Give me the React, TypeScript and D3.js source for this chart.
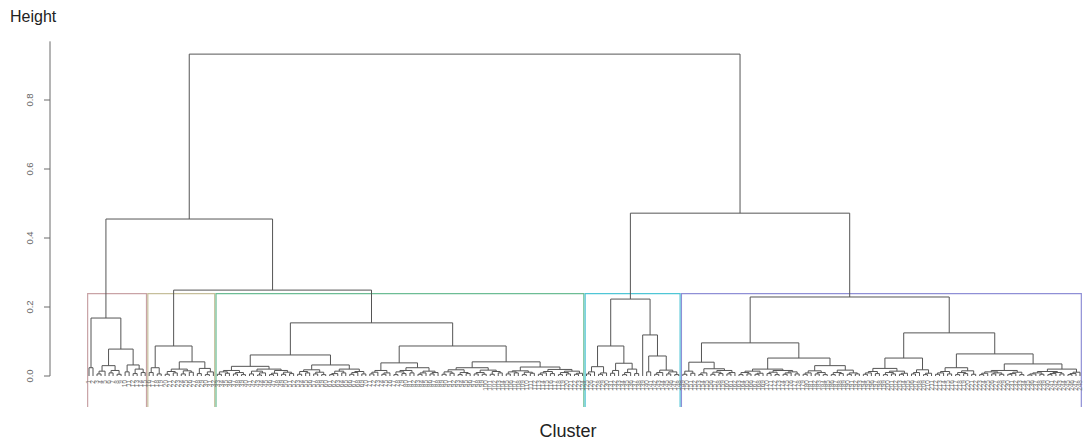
import React from 'react';
import * as d3 from 'd3';

// merge heights of the two top levels: [left sub-branch, left branch, right branch, root]
const topMerges = [0.249, 0.455, 0.472, 0.933];

// the five clusters, written as "(a,b)height" with "o" for a leaf
const cluster1 = `(
  (o,o)0.024,
  (
    (((o,o)0.006,o)0.014,((o,o)0.009,(o,o)0.005)0.016)0.03,
    ((o,o)0.012,((o,o)0.007,(o,o)0.01)0.02)0.032
  )0.078
)0.168`;

const cluster2 = `(
  ((o,o)0.01,(o,o)0.006)0.024,
  (
    (((o,o)0.005,(o,o)0.009)0.013,((o,o)0.006,(o,o)0.011)0.015)0.02,
    ((o,o)0.007,((o,o)0.004,o)0.012)0.022
  )0.041
)0.087`;

const cluster3 = `(
  (
    (
      (((o,o)0.005,(o,o)0.008)0.012,((o,o)0.006,(o,o)0.004)0.01)0.016,
      (((o,o)0.006,((o,o)0.003,o)0.009)0.014,(((o,o)0.004,o)0.008,((o,o)0.005,(o,o)0.007)0.011)0.016)0.02
    )0.028,
    (
      (((o,o)0.005,(o,o)0.009)0.013,((o,o)0.006,(o,o)0.004)0.011)0.018,
      ((((o,o)0.004,o)0.007,(o,o)0.009)0.014,(((o,o)0.005,o)0.01,(o,o)0.006)0.013)0.02
    )0.032
  )0.061,
  (
    (
      (((o,o)0.006,o)0.011,((o,o)0.005,o)0.009)0.016,
      ((((o,o)0.004,(o,o)0.007)0.012,(o,o)0.009)0.016,(((o,o)0.005,o)0.009,((o,o)0.006,o)0.01)0.014)0.024
    )0.038,
    (
      ((((o,o)0.005,(o,o)0.008)0.012,((o,o)0.004,(o,o)0.007)0.01)0.018,(((o,o)0.006,(o,o)0.005)0.01,((o,o)0.005,(o,o)0.009)0.013)0.017)0.024,
      ((((o,o)0.006,(o,o)0.009)0.012,((o,o)0.004,(o,o)0.008)0.011)0.015,((((o,o)0.005,o)0.009,(o,o)0.007)0.013,(((o,o)0.004,(o,o)0.006)0.01,((o,o)0.005,o)0.008)0.014)0.019)0.026
    )0.041
  )0.087
)0.154`;

const cluster4 = `(
  (
    (((o,o)0.006,o)0.012,((o,o)0.005,o)0.009)0.027,
    (((o,o)0.008,o)0.016,(((o,o)0.004,o)0.01,(o,o)0.007)0.02)0.037
  )0.087,
  (
    o,
    ((o,o)0.012,(((o,o)0.005,o)0.01,((o,o)0.006,(o,o)0.004)0.012)0.017)0.058
  )0.119
)0.223`;

const cluster5 = `(
  (
    (
      ((o,o)0.005,(o,o)0.008)0.014,
      (((o,o)0.004,o)0.009,(((o,o)0.005,(o,o)0.007)0.011,((o,o)0.006,o)0.01)0.016)0.021
    )0.04,
    (
      ((((o,o)0.004,(o,o)0.006)0.01,((o,o)0.005,o)0.008)0.014,(((o,o)0.007,(o,o)0.004)0.011,(((o,o)0.005,o)0.009,(o,o)0.006)0.012)0.016)0.02,
      (
        (((o,o)0.005,o)0.009,((o,o)0.006,(o,o)0.004)0.01)0.015,
        (((o,o)0.004,(o,o)0.007)0.01,((o,o)0.005,(o,o)0.006)0.009)0.017
      )0.03
    )0.052
  )0.096,
  (
    (
      ((((o,o)0.005,o)0.009,(o,o)0.007)0.013,(((o,o)0.004,(o,o)0.006)0.01,((o,o)0.005,o)0.008)0.014)0.022,
      (((o,o)0.006,o)0.01,((o,o)0.004,o)0.008)0.018
    )0.052,
    (
      (
        (((o,o)0.005,o)0.009,(o,o)0.006)0.013,
        (((o,o)0.004,(o,o)0.007)0.01,(o,o)0.005)0.015
      )0.024,
      (
        ((((o,o)0.004,o)0.008,((o,o)0.006,(o,o)0.005)0.009)0.012,(((o,o)0.005,o)0.007,(o,o)0.004)0.011)0.016,
        (
          ((((o,o)0.003,o)0.006,(o,o)0.005)0.009,(((o,o)0.004,o)0.007,(o,o)0.006)0.01)0.013,
          (((o,o)0.004,o)0.007,o)0.011
        )0.02
      )0.035
    )0.064
  )0.125
)0.229`;

const yTicks = [0, 0.2, 0.4, 0.6, 0.8];
const boxColors = ['#c9a3a6', '#c6bf9b', '#6dbd95', '#4fc6d6', '#8f8fd6'];
const k = 5;

type TNode = { height: number; children?: TNode[] };

function parseTree(src: string): TNode {
  const s = src.replace(/\s+/g, '');
  let i = 0;
  function node(): TNode {
    if (s[i] === '(') {
      i++;
      const children = [node()];
      while (s[i] === ',') {
        i++;
        children.push(node());
      }
      i++; // closing paren
      let num = '';
      while (i < s.length && /[0-9.]/.test(s[i])) num += s[i++];
      return { height: +num, children };
    }
    i++; // leaf
    return { height: 0 };
  }
  return node();
}

const [hA2, hA, hB, hRoot] = topMerges;
const treeText = `((${cluster1},(${cluster2},${cluster3})${hA2})${hA},(${cluster4},${cluster5})${hB})${hRoot}`;

const App = () => {
  const width = 1084,
    height = 448;

  const root = d3.hierarchy(parseTree(treeText));
  const leaves = root.leaves();
  const n = leaves.length;

  const x = d3.scaleLinear().domain([1, n]).range([89, 1080]);
  const y = d3.scaleLinear().domain([0, 0.8]).range([376, 100]);

  const pos = new Map<any, number>();
  const idx = new Map<any, number>();
  leaves.forEach((l, i) => {
    pos.set(l, x(i + 1));
    idx.set(l, i + 1);
  });
  root.eachAfter(d => {
    if (d.children) pos.set(d, d3.mean(d.children, c => pos.get(c)!)!);
  });

  const links = root.descendants().filter(d => d.children).map(d => {
    const [a, b] = d.children!;
    return `M${pos.get(a)},${y(a.data.height)}V${y(d.data.height)}H${pos.get(b)}V${y(b.data.height)}`;
  });

  // rect.hclust style boxes
  const hs = root.descendants().filter(d => d.children).map(d => d.data.height).sort((a, b) => b - a);
  const cut = (hs[k - 2] + hs[k - 1]) / 2;
  const clusters = root.descendants()
    .filter(d => d.data.height < cut && d.parent && d.parent.data.height > cut)
    .map(d => {
      const ls = d.leaves();
      return [idx.get(ls[0])!, idx.get(ls[ls.length - 1])!];
    })
    .sort((a, b) => a[0] - b[0]);
  const boxBottom = 407;

  return (
    <svg width={width} height={height} style={{ position: 'absolute', left: 0, top: 0, background: '#fff' }}
      fontFamily="Liberation Sans, Arial, sans-serif">
      <text x={10} y={22} fontSize={16} fill="#222">Height</text>
      <text x={568} y={437} fontSize={18} fill="#222" textAnchor="middle">Cluster</text>

      <g stroke="#6a6a6a" fill="none">
        <line x1={50} x2={50} y1={y(0)} y2={y(0.97)} />
        {yTicks.map(t => (
          <line key={t} x1={44} x2={50} y1={y(t)} y2={y(t)} />
        ))}
      </g>
      {yTicks.map(t => (
        <text key={t} transform={`translate(33,${y(t)}) rotate(-90)`} fontSize={9.5} fill="#666" textAnchor="middle">
          {t.toFixed(1)}
        </text>
      ))}

      {clusters.map(([a, b], i) => (
        <path key={i} d={`M${x(a - 0.34)},${boxBottom}V${y(cut)}H${x(b + 0.33)}V${boxBottom}`}
          fill="none" stroke={boxColors[i % boxColors.length]} strokeWidth={1.2} />
      ))}

      <g stroke="#555" strokeWidth={1} fill="none">
        {links.map((d, i) => <path key={i} d={d} />)}
      </g>

      <g fontSize={6.5} fill="#777">
        {leaves.map((l, i) => (
          <text key={i} transform={`translate(${pos.get(l)},380) rotate(-90)`} textAnchor="end" dy="0.35em">
            {idx.get(l)}
          </text>
        ))}
      </g>
    </svg>
  );
};

export default App;
